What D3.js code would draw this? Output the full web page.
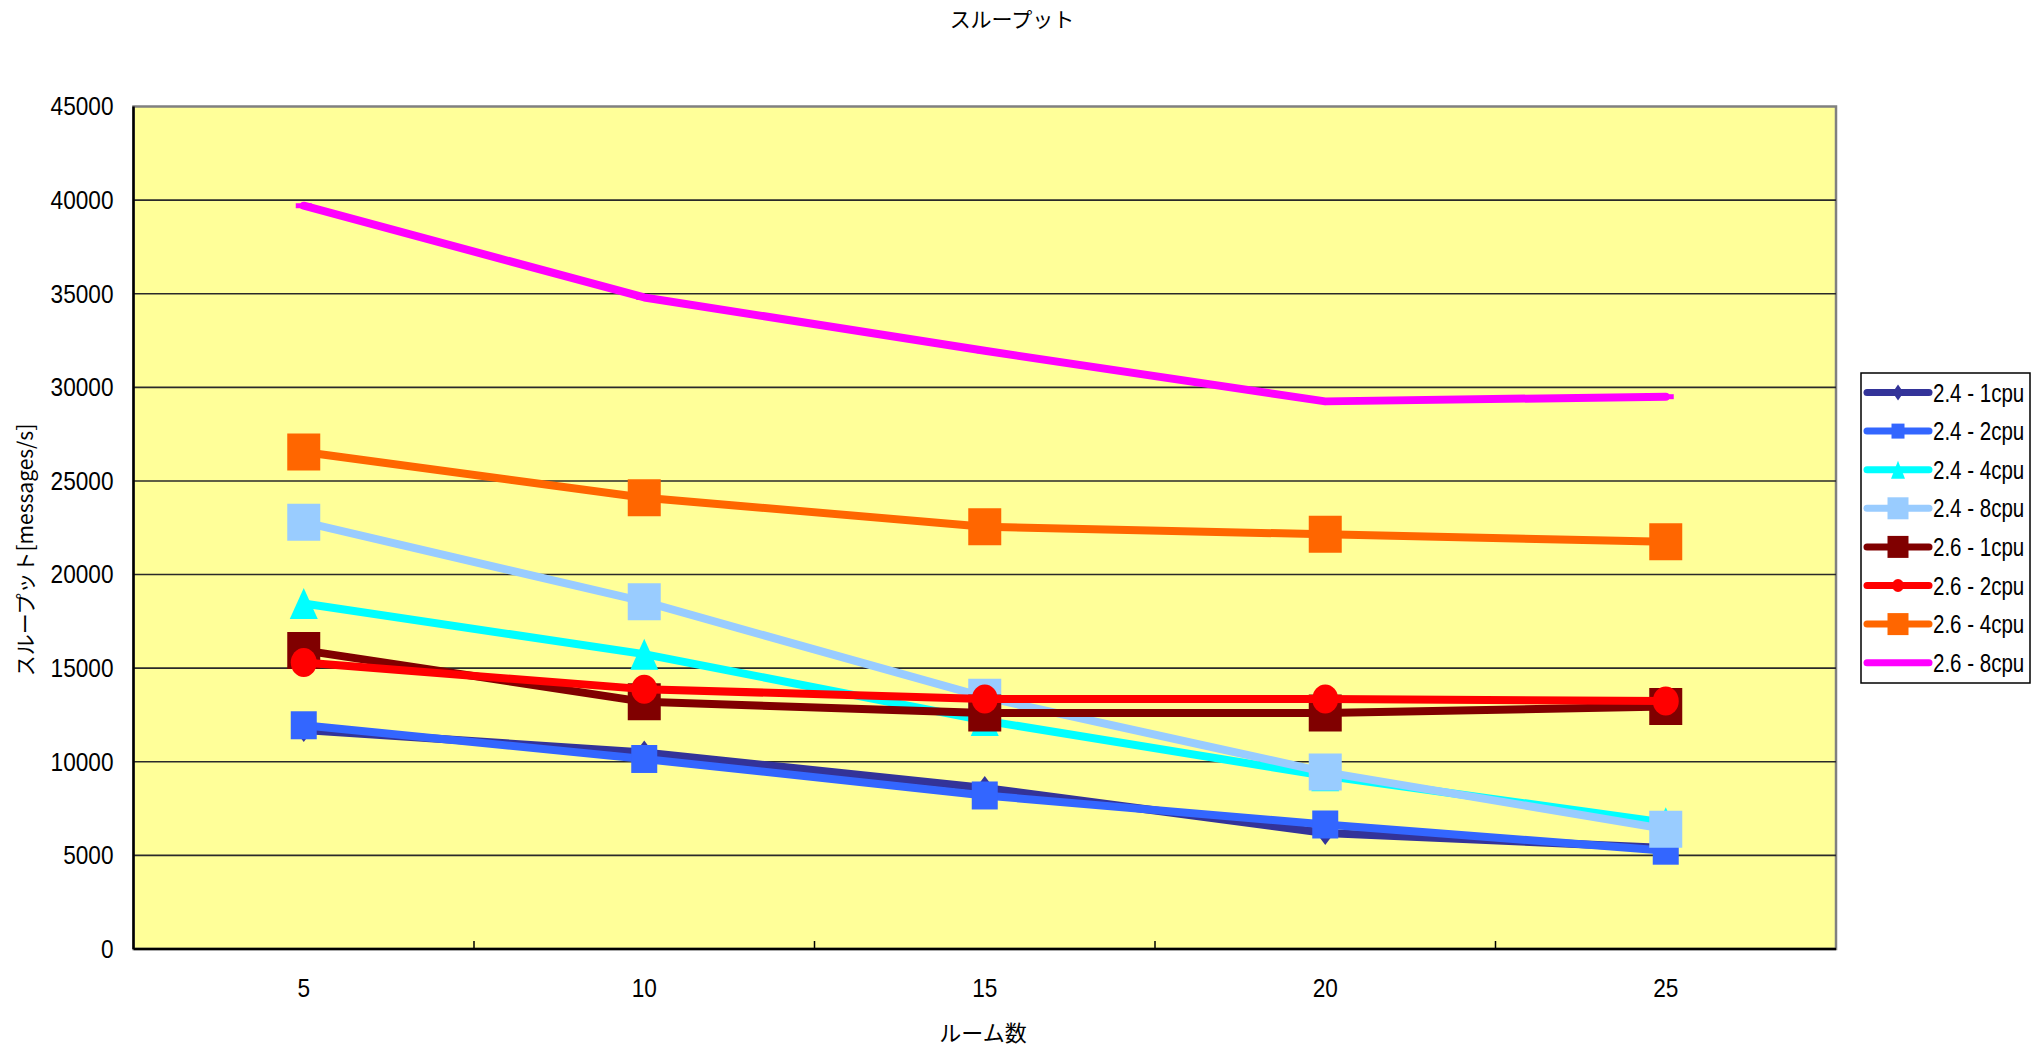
<!DOCTYPE html>
<html>
<head>
<meta charset="utf-8">
<script src="https://cdn.jsdelivr.net/npm/d3@7"></script>
<style>
  html, body { margin: 0; padding: 0; background: #ffffff; }
  svg { display: block; }
</style>
</head>
<body>
<svg id="chart" width="2032" height="1046"></svg>
<script>
// Room counts on the x axis
const categories = [5, 10, 15, 20, 25];
const yTicks = [0, 5000, 10000, 15000, 20000, 25000, 30000, 35000, 40000, 45000];

// Throughput [messages/s] per configuration
const seriesNames = ["2.4 - 1cpu", "2.4 - 2cpu", "2.4 - 4cpu", "2.4 - 8cpu",
                     "2.6 - 1cpu", "2.6 - 2cpu", "2.6 - 4cpu", "2.6 - 8cpu"];
const v24_1cpu = [11700, 10500, 8600, 6200, 5400];
const v24_2cpu = [11950, 10150, 8200, 6650, 5250];
const v24_4cpu = [18450, 15750, 12200, 9250, 6750];
const v24_8cpu = [22800, 18550, 13450, 9450, 6400];
const v26_1cpu = [15950, 13200, 12600, 12600, 12950];
const v26_2cpu = [15300, 13880, 13350, 13350, 13250];
const v26_4cpu = [26550, 24100, 22550, 22150, 21750];
const v26_8cpu = [39700, 34800, 31950, 29250, 29500];

const seriesValues = [v24_1cpu, v24_2cpu, v24_4cpu, v24_8cpu,
                      v26_1cpu, v26_2cpu, v26_4cpu, v26_8cpu];
const seriesColors = ["#333399", "#3366FF", "#00FFFF", "#99CCFF",
                      "#800000", "#FF0000", "#FF6600", "#FF00FF"];
const seriesMarkers = ["diamond", "smallSquare", "triangle", "square",
                       "square", "circle", "square", "dash"];

// Marker dimensions [width, height] in the plot and in the legend
const plotMarkerSize = {
  diamond: [18, 24], smallSquare: [26, 28], triangle: [28, 31],
  square: [33, 37], circle: [26, 29], dash: [16, 5]
};
const legendMarkerSize = {
  diamond: [11, 16], smallSquare: [13, 15], triangle: [14, 18],
  square: [21, 22], circle: [12, 13], dash: [0, 0]
};

const latinFont = "'Liberation Sans', Arial, sans-serif";
const cjkFont = "'Noto Sans CJK JP', 'Noto Sans', sans-serif";

// Narrow the latin labels horizontally (condensed face look)
function condense(sel, factor) {
  sel.each(function () {
    const len = this.getComputedTextLength();
    d3.select(this)
      .attr("textLength", len * factor)
      .attr("lengthAdjust", "spacingAndGlyphs");
  });
}

const svg = d3.select("#chart");

const plot = { left: 133.5, right: 1836, top: 106.5, bottom: 949 };

const x = d3.scaleBand()
  .domain(categories)
  .range([plot.left, plot.right])
  .paddingInner(0).paddingOuter(0);
const xc = d => x(d) + x.bandwidth() / 2;

const y = d3.scaleLinear()
  .domain([0, 45000])
  .range([plot.bottom, plot.top]);

// Plot area background
svg.append("rect")
  .attr("x", plot.left).attr("y", plot.top)
  .attr("width", plot.right - plot.left)
  .attr("height", plot.bottom - plot.top)
  .attr("fill", "#FFFF99")
  .attr("stroke", "#808080")
  .attr("stroke-width", 2.5);

// Horizontal gridlines
svg.append("g")
  .selectAll("line")
  .data(yTicks.filter(t => t > 0 && t < 45000))
  .join("line")
  .attr("x1", plot.left).attr("x2", plot.right)
  .attr("y1", d => y(d)).attr("y2", d => y(d))
  .attr("stroke", "#2a2a2a")
  .attr("stroke-width", 1.6);

// Y axis
const yAxis = svg.append("g")
  .attr("transform", `translate(${plot.left},0)`)
  .call(d3.axisLeft(y).tickValues(yTicks).tickSize(0).tickPadding(20).tickFormat(d3.format("d")));
yAxis.select(".domain").remove();
yAxis.selectAll("text")
  .attr("font-family", latinFont)
  .attr("font-size", 26)
  .attr("fill", "#000")
  .call(condense, 0.87);

// X axis
const xAxis = svg.append("g")
  .attr("transform", `translate(0,${plot.bottom})`)
  .call(d3.axisBottom(x).tickSize(0).tickPadding(30));
xAxis.select(".domain").remove();
xAxis.selectAll("text")
  .attr("font-family", latinFont)
  .attr("font-size", 26)
  .attr("fill", "#000")
  .call(condense, 0.87);

// Category boundary tick marks pointing into the plot
svg.append("g")
  .selectAll("line")
  .data(categories.slice(1))
  .join("line")
  .attr("x1", d => x(d)).attr("x2", d => x(d))
  .attr("y1", plot.bottom).attr("y2", plot.bottom - 8)
  .attr("stroke", "#000").attr("stroke-width", 1.5);

// Axis lines
svg.append("line")
  .attr("x1", plot.left).attr("x2", plot.left)
  .attr("y1", plot.top).attr("y2", plot.bottom)
  .attr("stroke", "#000").attr("stroke-width", 2.5);
svg.append("line")
  .attr("x1", plot.left).attr("x2", plot.right)
  .attr("y1", plot.bottom).attr("y2", plot.bottom)
  .attr("stroke", "#000").attr("stroke-width", 2.5);

// Marker shape as a path centred on the origin
function markerPath(type, w, h) {
  const p = d3.path();
  const hw = w / 2, hh = h / 2;
  switch (type) {
    case "diamond":
      p.moveTo(0, -hh); p.lineTo(hw, 0); p.lineTo(0, hh); p.lineTo(-hw, 0); p.closePath();
      break;
    case "triangle":
      p.moveTo(0, -hh); p.lineTo(hw, hh); p.lineTo(-hw, hh); p.closePath();
      break;
    case "circle":
      return `M${-hw},0 a${hw},${hh} 0 1,0 ${w},0 a${hw},${hh} 0 1,0 ${-w},0 Z`;
    default:
      p.rect(-hw, -hh, w, h);
  }
  return p.toString();
}

const line = d3.line()
  .x((d, i) => xc(categories[i]))
  .y(d => y(d));

// Series: line first, then its markers, in series order
seriesValues.forEach((vals, si) => {
  const g = svg.append("g").attr("class", "series");
  g.append("path")
    .datum(vals)
    .attr("d", line)
    .attr("fill", "none")
    .attr("stroke", seriesColors[si])
    .attr("stroke-width", 8)
    .attr("stroke-linejoin", "round")
    .attr("stroke-linecap", "round");
  const [mw, mh] = plotMarkerSize[seriesMarkers[si]];
  g.selectAll("path.marker")
    .data(vals)
    .join("path")
    .attr("class", "marker")
    .attr("transform", (d, i) => `translate(${xc(categories[i])},${y(d)})`)
    .attr("d", markerPath(seriesMarkers[si], mw, mh))
    .attr("fill", seriesColors[si]);
});

// Legend
const legend = svg.append("g").attr("transform", "translate(1861,373)");
legend.append("rect")
  .attr("x", 0).attr("y", 0)
  .attr("width", 169).attr("height", 310)
  .attr("fill", "#fff")
  .attr("stroke", "#000")
  .attr("stroke-width", 1.5);
const rowH = 38.6;
const items = legend.selectAll("g.item")
  .data(seriesNames)
  .join("g")
  .attr("class", "item")
  .attr("transform", (d, i) => `translate(0,${19.5 + i * rowH})`);
items.append("line")
  .attr("x1", 6).attr("x2", 68)
  .attr("y1", 0).attr("y2", 0)
  .attr("stroke", (d, i) => seriesColors[i])
  .attr("stroke-width", 7)
  .attr("stroke-linecap", "round");
items.append("path")
  .attr("transform", "translate(37,0)")
  .attr("d", (d, i) => {
    const [w, h] = legendMarkerSize[seriesMarkers[i]];
    return w > 0 ? markerPath(seriesMarkers[i], w, h) : "";
  })
  .attr("fill", (d, i) => seriesColors[i]);
// Legend labels use a condensed horizontal scale
items.append("text")
  .attr("transform", "translate(72,0) scale(0.79,1)")
  .attr("dy", "0.35em")
  .attr("font-family", latinFont)
  .attr("font-size", 26)
  .attr("fill", "#000")
  .text(d => d);

// Titles
svg.append("text")
  .attr("x", 1012).attr("y", 20)
  .attr("dy", "0.35em")
  .attr("text-anchor", "middle")
  .attr("font-family", cjkFont)
  .attr("font-size", 21)
  .attr("fill", "#000")
  .text("スループット");

svg.append("text")
  .attr("transform", "translate(26,550) rotate(-90)")
  .attr("dy", "0.35em")
  .attr("text-anchor", "middle")
  .attr("font-family", cjkFont)
  .attr("font-size", 21)
  .attr("fill", "#000")
  .text("スループット[messages/s]");

svg.append("text")
  .attr("x", 983).attr("y", 1033)
  .attr("dy", "0.35em")
  .attr("text-anchor", "middle")
  .attr("font-family", cjkFont)
  .attr("font-size", 22)
  .attr("fill", "#000")
  .text("ルーム数");
</script>
</body>
</html>
